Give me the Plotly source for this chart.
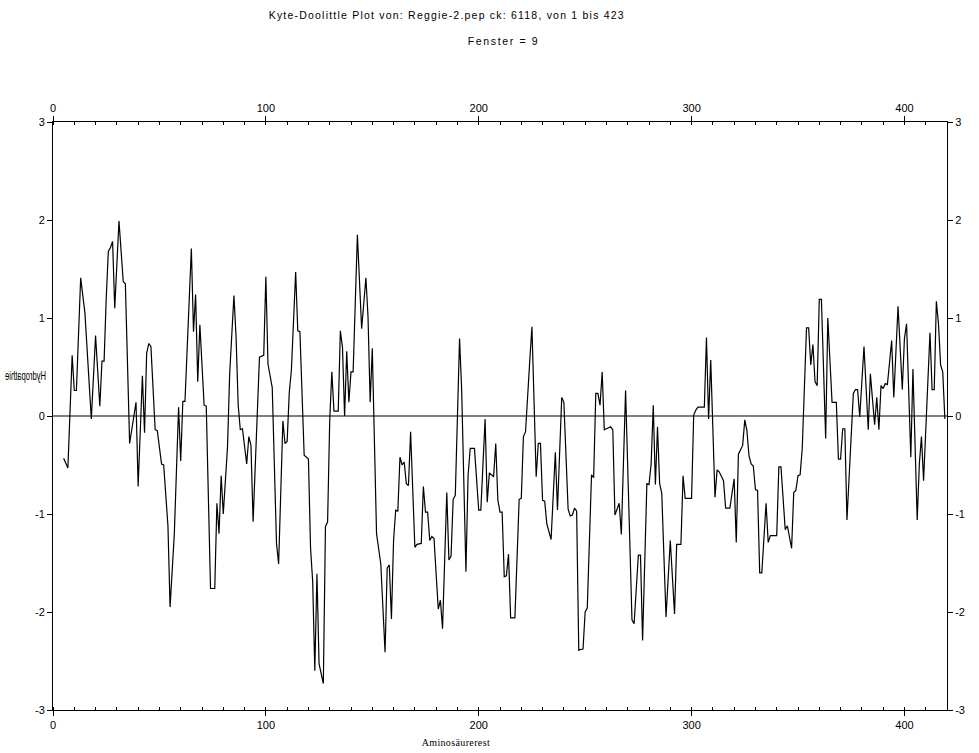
import plotly.graph_objects as go

# Residue positions (window centres) and Kyte-Doolittle hydropathy values
residue = [5, 7, 9, 10, 11, 13, 15, 18, 20, 22, 23, 24, 25, 26, 27, 28, 29, 31, 33, 34,
           36, 39, 40, 42, 43, 44, 45, 46, 48, 49, 51, 52, 54, 55, 57, 59, 60, 61, 62, 65,
           66, 67, 68, 69, 71, 72, 74, 76, 77, 78, 79, 80, 82, 83, 85, 86, 87, 88, 89, 91,
           92, 93, 94, 95, 97, 99, 100, 101, 103, 105, 106, 108, 109, 110, 111, 112, 114, 115, 116, 118,
           119, 120, 121, 122, 123, 124, 125, 127, 128, 129, 130, 131, 132, 134, 135, 136, 137, 138, 139, 140,
           141, 142, 143, 145, 147, 148, 149, 150, 152, 154, 156, 157, 158, 159, 160, 161, 162, 163, 164, 165,
           166, 167, 168, 170, 171, 173, 174, 175, 176, 177, 178, 179, 181, 182, 183, 185, 186, 187, 188, 189,
           191, 192, 194, 195, 196, 198, 199, 200, 201, 203, 204, 205, 207, 208, 209, 210, 211, 212, 213, 214,
           215, 217, 219, 220, 221, 222, 224, 225, 227, 228, 229, 230, 231, 232, 234, 236, 237, 239, 240, 242,
           243, 244, 245, 246, 247, 248, 249, 250, 251, 253, 254, 255, 256, 257, 258, 259, 260, 261, 262, 263,
           264, 266, 267, 269, 272, 273, 275, 276, 277, 279, 280, 281, 282, 283, 284, 285, 286, 288, 290, 292,
           293, 295, 296, 297, 300, 301, 302, 303, 306, 307, 308, 309, 310, 311, 312, 313, 315, 316, 318, 320,
           321, 322, 324, 325, 326, 327, 328, 329, 330, 331, 332, 333, 335, 336, 337, 340, 341, 342, 344, 345,
           347, 348, 349, 350, 351, 352, 354, 355, 356, 357, 358, 359, 360, 361, 363, 364, 366, 368, 369, 370,
           371, 372, 373, 376, 377, 378, 379, 381, 383, 384, 386, 387, 388, 389, 390, 391, 392, 394, 395, 397,
           399, 400, 401, 403, 404, 406, 407, 408, 409, 412, 413, 414, 415, 416, 417, 418, 419]

hydropathy = [-0.43, -0.53, 0.62, 0.26, 0.26, 1.41, 1.05, -0.03, 0.82, 0.10, 0.56, 0.56, 1.20, 1.68, 1.72, 1.78, 1.10, 1.99, 1.37, 1.35,
              -0.28, 0.14, -0.72, 0.41, -0.17, 0.64, 0.74, 0.71, -0.14, -0.15, -0.49, -0.50, -1.12, -1.95, -1.20, 0.09, -0.46, 0.15, 0.15, 1.71,
              0.86, 1.24, 0.35, 0.93, 0.11, 0.10, -1.76, -1.76, -0.89, -1.20, -0.61, -1.00, -0.31, 0.43, 1.23, 0.81, 0.11, -0.14, -0.13, -0.49,
              -0.21, -0.30, -1.08, -0.55, 0.60, 0.62, 1.42, 0.53, 0.29, -1.30, -1.51, -0.05, -0.28, -0.26, 0.24, 0.47, 1.47, 0.87, 0.86, -0.40,
              -0.42, -0.44, -1.35, -1.69, -2.60, -1.61, -2.53, -2.73, -1.13, -1.08, -0.05, 0.45, 0.05, 0.05, 0.87, 0.70, 0.00, 0.66, 0.14, 0.45,
              0.45, 1.08, 1.85, 0.89, 1.41, 1.01, 0.14, 0.69, -1.20, -1.51, -2.41, -1.55, -1.52, -2.07, -1.27, -0.96, -0.97, -0.42, -0.50, -0.47,
              -0.69, -0.71, -0.16, -1.34, -1.31, -1.30, -0.72, -0.98, -0.98, -1.27, -1.23, -1.25, -1.97, -1.88, -2.17, -0.78, -1.47, -1.43, -0.85, -0.81,
              0.79, 0.26, -1.59, -0.61, -0.33, -0.33, -0.66, -0.96, -0.96, -0.03, -0.88, -0.58, -0.62, -0.28, -0.86, -0.98, -0.98, -1.64, -1.63, -1.41,
              -2.06, -2.06, -0.85, -0.84, -0.21, -0.16, 0.57, 0.91, -0.62, -0.28, -0.28, -0.86, -0.87, -1.10, -1.26, -0.37, -0.96, 0.19, 0.14, -0.95,
              -1.02, -1.01, -0.94, -0.97, -2.39, -2.38, -2.38, -2.00, -1.96, -0.60, -0.63, 0.23, 0.23, 0.11, 0.45, -0.14, -0.13, -0.12, -0.11, -0.14,
              -1.01, -0.89, -1.21, 0.26, -2.08, -2.12, -1.42, -1.42, -2.29, -0.69, -0.70, -0.49, 0.11, -0.70, -0.11, -0.69, -0.79, -2.05, -1.27, -2.02,
              -1.31, -1.31, -0.61, -0.84, -0.84, 0.01, 0.06, 0.09, 0.09, 0.80, -0.03, 0.57, -0.25, -0.83, -0.55, -0.57, -0.66, -0.94, -0.94, -0.64,
              -1.29, -0.39, -0.30, -0.04, -0.15, -0.41, -0.49, -0.51, -0.75, -0.76, -1.60, -1.60, -0.89, -1.29, -1.22, -1.22, -0.52, -0.52, -1.16, -1.12,
              -1.35, -0.78, -0.76, -0.61, -0.60, -0.33, 0.90, 0.90, 0.52, 0.73, 0.35, 0.31, 1.19, 1.19, -0.23, 1.00, 0.14, 0.14, -0.44, -0.44,
              -0.13, -0.13, -1.06, 0.23, 0.27, 0.27, -0.01, 0.71, -0.14, 0.43, -0.09, 0.19, -0.14, 0.31, 0.28, 0.33, 0.32, 0.77, 0.19, 1.12,
              0.27, 0.79, 0.94, -0.42, 0.48, -1.06, -0.49, -0.21, -0.66, 0.85, 0.27, 0.27, 1.17, 0.94, 0.52, 0.45, -0.03]

x_ticks = [0, 100, 200, 300, 400]
x_minor = [v for v in range(0, 421, 10)]
y_ticks = [-3, -2, -1, 0, 1, 2, 3]
y_labels = ["-3", "-2", "-1", "0", "1", "2", "3"]

W, H = 979, 753
ML, MR, MT, MB = 53, 32, 122, 43
PW, PH = W - ML - MR, H - MT - MB


def xp(px):
    return (px - ML) / PW


def yp(py):
    return (H - MB - py) / PH


font_tick = dict(family="Liberation Sans, Arial, sans-serif", size=11, color="black")

fig = go.Figure()
fig.add_trace(go.Scatter(x=residue, y=hydropathy, mode="lines",
                         line=dict(color="black", width=1.2), showlegend=False,
                         hoverinfo="skip"))
# invisible trace to activate the secondary (top/right) axes
fig.add_trace(go.Scatter(x=[residue[0]], y=[hydropathy[0]], xaxis="x2", yaxis="y2",
                         mode="markers", marker=dict(opacity=0), showlegend=False,
                         hoverinfo="skip"))

axis_common = dict(showgrid=False, zeroline=False, showline=True, linecolor="black",
                   linewidth=1, tickcolor="black", tickfont=font_tick)

fig.update_layout(
    width=W, height=H,
    margin=dict(l=ML, r=MR, t=MT, b=MB),
    paper_bgcolor="white", plot_bgcolor="white",
    xaxis=dict(range=[0, 420], tickmode="array", tickvals=x_ticks,
               ticktext=[str(v) for v in x_ticks], ticks="outside", ticklen=5,
               minor=dict(tickmode="array", tickvals=x_minor, ticks="inside", ticklen=3,
                          tickcolor="black"),
               **axis_common),
    xaxis2=dict(range=[0, 420], overlaying="x", side="top", tickmode="array",
                tickvals=x_ticks, ticktext=[str(v) for v in x_ticks], ticks="outside",
                ticklen=5,
                minor=dict(tickmode="array", tickvals=x_minor, ticks="inside", ticklen=3,
                           tickcolor="black"),
                **axis_common),
    yaxis=dict(range=[-3, 3], tickmode="array", tickvals=y_ticks, ticktext=y_labels,
               ticks="outside", ticklen=5, **axis_common),
    yaxis2=dict(range=[-3, 3], overlaying="y", side="right", tickmode="array",
                tickvals=y_ticks, ticktext=y_labels, ticks="outside", ticklen=5,
                **axis_common),
)

# horizontal reference line at zero
fig.add_shape(type="line", xref="x", yref="y", x0=0, x1=420, y0=0, y1=0,
              line=dict(color="black", width=1.2))

title_font = dict(family="Liberation Sans, Arial, sans-serif", size=10.5, color="black")
fig.add_annotation(text="Kyte-Doolittle Plot von: Reggie-2.pep ck: 6118, von 1 bis 423",
                   xref="paper", yref="paper", x=xp(445.5), y=yp(15), showarrow=False,
                   xanchor="center", yanchor="middle", font=title_font)
fig.add_annotation(text="Fenster = 9", xref="paper", yref="paper", x=xp(503), y=yp(41),
                   showarrow=False, xanchor="center", yanchor="middle", font=title_font)
fig.add_annotation(text="Aminosäurerest", xref="paper", yref="paper", x=xp(456), y=yp(743),
                   showarrow=False, xanchor="center", yanchor="middle",
                   font=dict(family="Liberation Serif, Times New Roman, serif", size=10,
                             color="black"))
fig.add_annotation(text="Hydropathie", xref="paper", yref="paper", x=xp(31), y=yp(376),
                   showarrow=False, xanchor="center", yanchor="middle",
                   font=dict(family="Liberation Sans, Arial, sans-serif", size=12,
                             color="black"))

post = """
(function(){
  var specs = [
    ['Kyte-Doolittle', 355, 'spacing', false],
    ['Fenster', 70, 'spacing', false],
    ['Aminos', 68, 'spacing', false],
    ['Hydropathie', 41, 'spacingAndGlyphs', true]
  ];
  function adjust(){
    document.querySelectorAll('.annotation-text').forEach(function(t){
      var s = t.textContent;
      specs.forEach(function(sp){
        if (s.indexOf(sp[0]) === 0) {
          t.setAttribute('textLength', sp[1]);
          t.setAttribute('lengthAdjust', sp[2]);
          if (sp[3]) {
            t.style.transformBox = 'fill-box';
            t.style.transformOrigin = 'center';
            t.style.transform = 'translateX(-6px) scaleX(-1)';
          }
        }
      });
    });
  }
  adjust();
  var gd = document.getElementById('{plot_id}');
  if (gd && gd.on) { gd.on('plotly_afterplot', adjust); }
})();
"""

fig.write_html("out.html", post_script=post)
